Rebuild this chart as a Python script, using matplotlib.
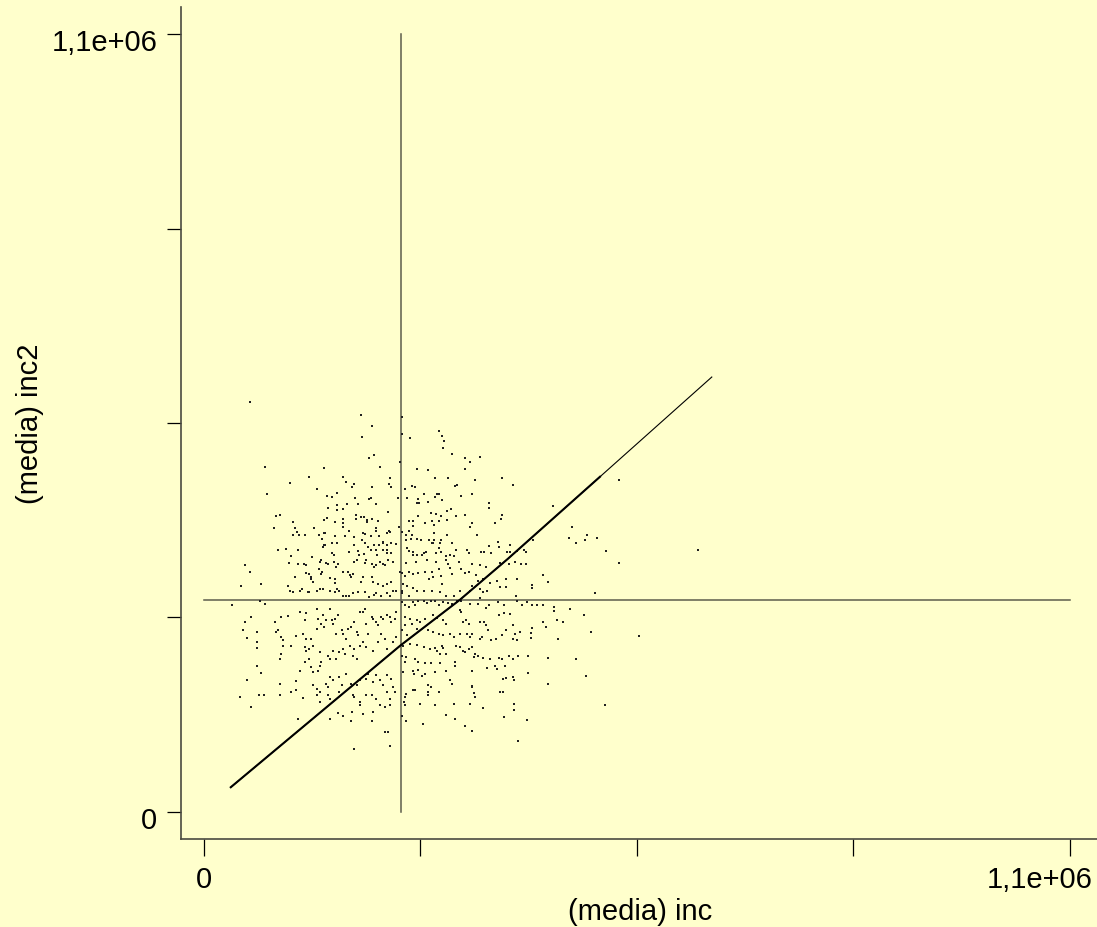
import matplotlib
matplotlib.use('Agg')
import matplotlib.pyplot as plt
import matplotlib.transforms as mtransforms
import numpy as np

plt.rcParams['font.family'] = ['Liberation Sans', 'DejaVu Sans']

# valores (en miles)
# nube superior izquierda
inc_a = [58, 199, 214, 201, 209, 216, 78, 152, 223, 249,
         133, 176, 236, 109, 181, 190, 191, 188, 214, 235,
         238, 80, 143, 169, 156, 162, 192, 209, 212, 246,
         182, 169, 196, 219, 158, 169, 177, 193, 234, 96,
         92, 113, 152, 156, 166, 177, 193, 199, 203, 207,
         213, 221, 89, 115, 140, 176, 184, 177, 207, 219,
         219, 235, 248, 118, 113, 121, 128, 146, 152, 154,
         150, 166, 179, 191, 202, 205, 212, 222, 232, 236,
         201, 228, 163, 169, 152, 154, 151, 191, 205, 208,
         216, 222, 228, 232, 237, 244, 94, 104, 119, 163,
         165, 184, 195, 197, 203, 212, 218, 220, 228, 233,
         232, 238, 110, 137, 148,
         252, 251, 262, 270, 264, 268, 255, 258, 272, 270,
         273, 261, 265, 272, 266, 251, 261, 264, 256, 256,
         265, 263]
inc2_a = [580, 561, 546, 530, 500, 505, 488, 486, 488, 495,
          473, 474, 472, 465, 467, 464, 464, 459, 459, 464,
          459, 449, 456, 451, 447, 445, 444, 442, 444, 444,
          436, 434, 435, 436, 430, 427, 429, 420, 424, 420,
          418, 410, 413, 415, 410, 414, 414, 417, 417, 413,
          414, 411, 401, 402, 401, 403, 398, 408, 410, 402,
          398, 397, 403, 396, 392, 391, 392, 391, 395, 394,
          386, 390, 390, 389, 394, 393, 390, 390, 395, 396,
          385, 382, 381, 381, 378, 377, 374, 377, 380, 375,
          377, 377, 380, 377, 380, 379, 370, 372, 371, 366,
          364, 368, 369, 364, 365, 371, 371, 364, 370, 370,
          366, 366, 362, 361, 356,
          558, 535, 529, 485, 461, 460, 456, 444, 442, 437,
          437, 412, 412, 419, 405, 396, 397, 391, 392, 384,
          368, 386]

# nube superior derecha
inc_b = [299, 302, 305, 303, 315, 332, 338, 351, 284, 331,
         293, 310, 344, 378, 392, 319, 321, 279, 293, 296,
         298, 326, 341, 285, 302, 362, 362, 314, 309, 288,
         295, 301, 320, 331, 378, 377, 369, 281, 289, 299,
         309, 292, 338, 340, 292, 309, 347, 271, 276, 286,
         289, 291, 292, 300, 301, 315, 373, 362, 375, 389,
         418, 258, 261, 266, 270, 277, 279, 282, 295, 298,
         301, 307, 312, 317, 320, 334, 336, 352, 356, 364,
         385, 389, 397, 406, 409, 443, 468, 463, 472, 484,
         487, 499, 511, 527, 527, 628]
inc2_b = [538, 532, 524, 514, 506, 500, 495, 502, 484, 485,
          472, 472, 469, 472, 463, 461, 462, 450, 446, 449,
          450, 447, 449, 439, 441, 437, 430, 429, 426, 423,
          421, 419, 418, 420, 420, 414, 408, 409, 412, 412,
          413, 406, 403, 408, 395, 392, 391, 386, 385, 384,
          380, 380, 384, 380, 385, 381, 382, 376, 375, 377,
          385, 373, 369, 364, 364, 364, 366, 368, 366, 373,
          368, 362, 364, 362, 370, 370, 366, 367, 367, 366,
          367, 367, 369, 370, 368, 433, 403, 387, 380, 384,
          392, 387, 369, 469, 352, 371]

# nube inferior derecha
inc_c = [257, 269, 283, 295, 307, 310, 324, 341, 351, 358,
         376, 387, 395, 403, 409, 252, 260, 255, 266, 272,
         281, 290, 298, 301, 291, 286, 315, 312, 326, 337,
         332, 346, 355, 363, 372, 384, 398, 430, 437, 341,
         348, 253, 258, 266, 271, 279, 289, 300, 302, 308,
         317, 325, 338, 351, 354, 350, 360, 376, 384, 396,
         417, 417, 497, 251, 260, 252, 251, 255, 260, 266,
         268, 272, 279, 283, 288, 293, 299, 304, 310, 315,
         321, 327, 338, 348, 358, 362, 374, 381, 397, 404,
         410, 416, 423, 430, 445, 445, 465, 483, 327, 325,
         255, 262, 270, 274, 281, 291, 296, 304, 308, 333,
         336, 329, 375, 381, 351, 356, 358, 389, 431, 448,
         456, 434, 392, 401, 416, 415, 255, 258, 251, 270,
         264, 285, 291, 299, 304, 312, 318, 325, 334, 338,
         341, 350, 353, 361, 365, 371, 378, 384, 392, 398,
         395, 415, 450, 492, 553, 262, 270, 279, 287, 293,
         296, 302, 304, 300, 308, 320, 325, 329, 332, 337,
         340, 344, 348, 354, 363, 375, 378, 387, 393, 399,
         411, 437, 472, 253, 251, 257, 255, 268, 272, 281,
         288, 300, 319, 319, 343, 360, 370, 372, 382, 412,
         253, 265, 267, 272, 277, 281, 293, 307, 341, 380,
         384, 393, 394, 437, 485, 315, 312, 285, 288, 265,
         268, 257, 255, 274, 285, 285, 299, 340, 341, 343,
         344, 376, 380, 254, 255, 294, 318, 338, 354, 394,
         394, 509, 251, 257, 278, 308, 319, 332, 341, 381,
         410, 399]
inc2_c = [352, 353, 356, 353, 356, 351, 354, 351, 349, 346,
          352, 351, 353, 350, 350, 338, 340, 334, 337, 338,
          340, 340, 344, 334, 332, 329, 337, 345, 343, 339,
          338, 335, 330, 324, 327, 330, 330, 335, 325, 320,
          327, 323, 320, 317, 312, 313, 313, 311, 323, 305,
          306, 312, 313, 316, 311, 302, 313, 318, 318, 306,
          321, 317, 310, 309, 306, 313, 297, 292, 290, 297,
          293, 298, 299, 296, 299, 298, 292, 297, 296, 294,
          299, 298, 294, 294, 288, 292, 297, 292, 298, 292,
          297, 292, 293, 293, 290, 284, 287, 279, 283, 285,
          276, 273, 271, 268, 273, 278, 274, 271, 266, 271,
          266, 268, 278, 282, 269, 268, 265, 280, 269, 271,
          268, 261, 265, 255, 260, 253, 264, 250, 257, 259,
          266, 257, 255, 252, 250, 251, 248, 252, 251, 247,
          252, 245, 247, 257, 243, 245, 250, 257, 245, 243,
          251, 246, 244, 254, 249, 238, 236, 233, 231, 232,
          228, 235, 232, 224, 224, 235, 233, 228, 226, 230,
          233, 224, 221, 218, 217, 218, 217, 220, 217, 220,
          221, 218, 217, 235, 221, 219, 212, 217, 212, 210,
          210, 211, 212, 207, 219, 203, 207, 202, 206, 197,
          198, 199, 195, 201, 192, 195, 198, 199, 199, 188,
          189, 191, 187, 181, 192, 181, 187, 179, 177, 172,
          172, 167, 162, 153, 169, 165, 169, 177, 178, 168,
          162, 170, 170, 155, 151, 151, 153, 153, 147, 152,
          144, 151, 136, 128, 125, 137, 131, 121, 114, 135,
          130, 101]

# nube inferior izquierda
inc_d = [52, 58, 73, 47, 108, 120, 127, 129, 134, 136,
         147, 155, 158, 146, 150, 149, 165, 170, 168, 160,
         166, 167, 169, 172, 172, 177, 183, 185, 187, 189,
         191, 194, 204, 206, 213, 216, 219, 223, 227, 230,
         234, 240, 200, 202, 213, 215, 221, 227, 232, 238,
         240, 244, 232, 236, 107, 109, 113, 122, 124, 132,
         134, 143, 147, 151, 160, 166, 177, 181, 184, 189,
         196, 204, 210, 216, 219, 225, 115, 130, 136, 139,
         249, 35, 77, 71, 60, 52, 50, 54, 67, 67,
         67, 67, 72, 54, 46, 60, 70, 76, 90, 94,
         92, 98, 107, 98, 100, 100, 98, 97, 111, 117,
         122, 130, 128, 126, 130, 134, 139, 128, 143, 145,
         143, 136, 130, 147, 151, 155, 153, 149, 160, 162,
         164, 166, 170, 168, 175, 177, 181, 183, 187, 191,
         194, 196, 198, 202, 204, 206, 208, 213, 215, 219,
         221, 225, 227, 232, 236, 238, 242, 244, 244, 122,
         128, 134, 136, 139, 145, 147, 149, 158, 160, 164,
         168, 172, 177, 179, 185, 189, 194, 191, 198, 202,
         206, 215, 221, 225, 230, 240, 232, 139, 143, 147,
         155, 160, 164, 172, 175, 181, 187, 194, 198, 206,
         208, 215, 219, 223, 227, 232, 236, 242, 240, 232,
         238, 96, 117, 117, 111, 97, 143, 158, 189, 191,
         198, 206, 213, 219, 223, 230, 236, 198, 160, 170,
         177, 187, 202, 213, 215, 230, 234, 236, 191, 120,
         160, 147, 126, 158, 172, 188]
inc2_d = [349, 340, 323, 320, 352, 350, 350, 349, 337, 332,
          354, 352, 351, 344, 339, 337, 353, 351, 346, 331,
          330, 324, 316, 313, 312, 339, 339, 335, 332, 337,
          353, 356, 352, 356, 351, 346, 349, 353, 351, 349,
          356, 353, 325, 332, 332, 325, 323, 320, 323, 325,
          313, 313, 309, 305, 320, 313, 311, 312, 315, 311,
          311, 313, 316, 315, 313, 311, 306, 306, 306, 309,
          311, 311, 304, 307, 309, 306, 332, 338, 330, 325,
          339, 293, 294, 299, 276, 268, 258, 246, 255, 240,
          232, 207, 197, 186, 162, 149, 166, 166, 268, 257,
          254, 276, 277, 247, 243, 235, 224, 217, 235, 249,
          283, 282, 271, 252, 245, 231, 235, 233, 287, 273,
          259, 245, 228, 226, 278, 271, 261, 266, 287, 271,
          266, 273, 278, 252, 257, 252, 245, 259, 261, 268,
          254, 250, 283, 283, 287, 266, 252, 276, 273, 268,
          264, 276, 273, 278, 276, 268, 273, 283, 247, 200,
          212, 217, 205, 198, 200, 207, 212, 221, 217, 228,
          217, 226, 231, 224, 235, 221, 217, 231, 235, 240,
          233, 228, 240, 252, 245, 240, 231, 179, 174, 169,
          181, 191, 186, 191, 179, 195, 181, 179, 186, 188,
          195, 184, 193, 186, 179, 169, 160, 169, 177, 193,
          188, 181, 185, 172, 169, 166, 165, 165, 165, 162,
          155, 165, 165, 160, 151, 148, 151, 151, 132, 140,
          136, 128, 139, 129, 141, 113, 113, 94, 89, 132,
          160, 155, 161, 177, 169, 141]

# línea ajustada
fit_inc = [34, 249, 325, 386, 503, 645]
fit_inc2 = [35, 235, 300, 358, 474, 615]

# medias
mean_inc = 250000
mean_inc2 = 300000

ticks = [0, 275000, 550000, 825000, 1100000]
tick_labels = ['0', '', '', '', '1,1e+06']

bg = '#FFFFCC'
inc = np.array(inc_a + inc_b + inc_c + inc_d) * 1000
inc2 = np.array(inc2_a + inc2_b + inc2_c + inc2_d) * 1000
fx = np.array(fit_inc) * 1000
fy = np.array(fit_inc2) * 1000

fig = plt.figure(figsize=(10.97, 9.28), dpi=100, facecolor=bg)
ax = fig.add_axes([181 / 1097, 88 / 928, 916 / 1097, 832 / 928])
ax.set_facecolor(bg)

ax.plot([mean_inc, mean_inc], [0, 1100000], color='#5c5c4c', lw=1.1, zorder=1)
ax.plot([0, 1100000], [mean_inc2, mean_inc2], color='#5c5c4c', lw=1.1, zorder=1)
ax.scatter(inc, inc2, s=2.4, marker='s', c='#202020', linewidths=0, zorder=2)
ax.plot(fx, fy, color='black', lw=0.8, zorder=3)
ax.plot(fx[:5], fy[:5], color='black', lw=1.5, zorder=3)

ax.set_xlim(-29215, 1134300)
ax.set_ylim(-38175, 1138175)
ax.set_xticks(ticks)
ax.set_xticklabels(tick_labels)
ax.set_yticks(ticks)
ax.set_yticklabels(tick_labels)
for s in ['top', 'right']:
    ax.spines[s].set_visible(False)
for s in ['left', 'bottom']:
    ax.spines[s].set_color('#4a4a40')
    ax.spines[s].set_linewidth(1.2)
ax.tick_params(axis='x', length=12.5, width=0.9, pad=6, labelsize=21, colors='black')
ax.tick_params(axis='y', length=10, width=0.9, pad=7, labelsize=21, colors='black')

# la etiqueta final del eje x queda dentro de la figura
last = ax.get_xticklabels()[-1]
last.set_ha('right')
last.set_transform(last.get_transform() +
                   mtransforms.ScaledTranslation(23 / 100, 0, fig.dpi_scale_trans))
for lab in ax.get_yticklabels():
    lab.set_transform(lab.get_transform() +
                      mtransforms.ScaledTranslation(0, -5 / 100, fig.dpi_scale_trans))

fig.text(640 / 1097, 1 - 912 / 928, '(media) inc', ha='center', va='center', fontsize=21)
fig.text(30 / 1097, 1 - 424 / 928, '(media) inc2', ha='center', va='center',
         rotation=90, fontsize=21)

fig.savefig('out.png', dpi=100, facecolor=bg)
